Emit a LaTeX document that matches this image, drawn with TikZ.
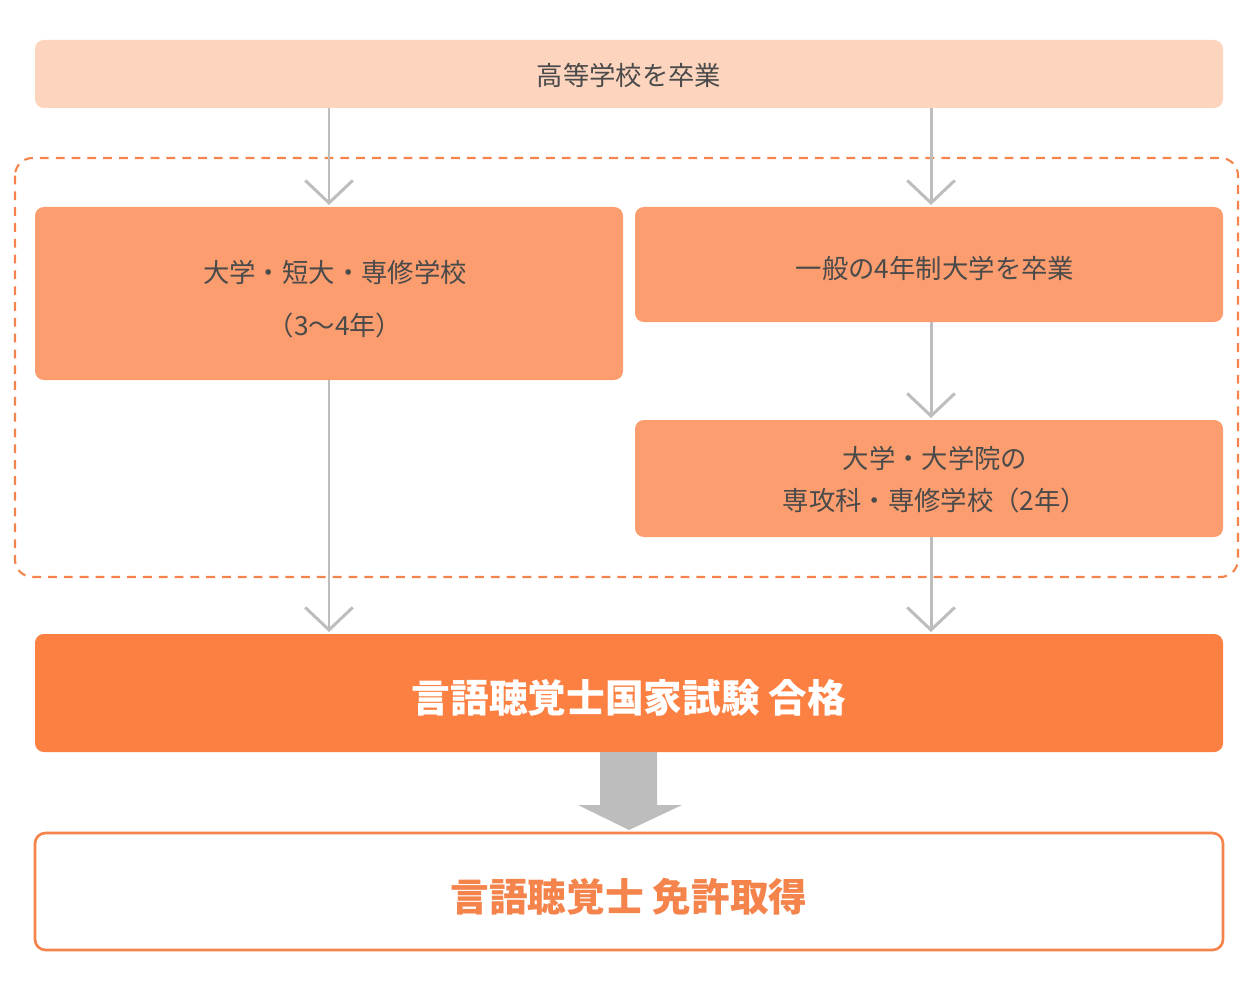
\documentclass[tikz,border=0pt]{standalone}
\usepackage{fontspec}
\setmainfont{Noto Sans CJK JP}
\usetikzlibrary{arrows.meta}
\definecolor{peach}{HTML}{FDD5BF}
\definecolor{mid}{HTML}{FB9D6E}
\definecolor{deep}{HTML}{FD8043}
\definecolor{line}{HTML}{F4844C}
\definecolor{gry}{HTML}{BDBDBD}
\definecolor{txt}{HTML}{4A4A4A}
\begin{document}
\begin{tikzpicture}[x=0.02cm,y=-0.02cm,
  box/.style={draw=none,rounded corners=5pt,inner sep=0pt},
  lbl/.style={text=txt,font=\fontsize{15}{24}\selectfont,align=center},
  conn/.style={draw=gry,line width=1.7pt,-{Straight Barb[length=0.45cm,width=0.95cm,line width=1.7pt]}}]
\useasboundingbox (0,0) rectangle (1260,1000);
% boxes
\fill[peach,rounded corners=5pt] (35,40) rectangle (1223,108);
\node[lbl] (top) at (629,75) {高等学校を卒業};
\draw[line,line width=1.2pt,dash pattern=on 5pt off 4pt,rounded corners=10pt] (15,158) rectangle (1238,577);
\fill[mid,rounded corners=5pt] (35,207) rectangle (623,380);
\node[lbl] (l1) at (335,272) {大学・短大・専修学校};
\node[lbl] (l2) at (335,325) {（3〜4年）};
\fill[mid,rounded corners=5pt] (635,207) rectangle (1223,322);
\node[lbl] (r1) at (935,268) {一般の4年制大学を卒業};
\fill[mid,rounded corners=5pt] (635,420) rectangle (1223,537);
\node[lbl] (r2) at (935,480) {大学・大学院の\\専攻科・専修学校（2年）};
\fill[deep,rounded corners=5pt] (35,634) rectangle (1223,752);
\node[text=white,font=\bfseries\fontsize{22}{26}\selectfont] (exam) at (629,698) {言語聴覚士国家試験 合格};
\draw[line,line width=1.5pt,fill=white,rounded corners=6pt] (35,833) rectangle (1223,950);
\node[text=line,font=\bfseries\fontsize{22}{26}\selectfont] (lic) at (629,897) {言語聴覚士 免許取得};
% connector coordinates
\coordinate (a0) at (329,108); \coordinate (a1) at (329,205);
\coordinate (a2) at (329,380); \coordinate (a3) at (329,632);
\coordinate (b0) at (931,108); \coordinate (b1) at (931,205);
\coordinate (b2) at (931,322); \coordinate (b3) at (931,418);
\coordinate (b4) at (931,537); \coordinate (b5) at (931,632);
\draw[conn] (a0) -- (a1);
\draw[conn] (a2) -- (a3);
\draw[conn] (b0) -- (b1);
\draw[conn] (b2) -- (b3);
\draw[conn] (b4) -- (b5);
% block arrow
\fill[gry] (600,752) -- (657,752) -- (657,805) -- (682,805) -- (629,830) -- (578,805) -- (600,805) -- cycle;
\end{tikzpicture}
\end{document}
